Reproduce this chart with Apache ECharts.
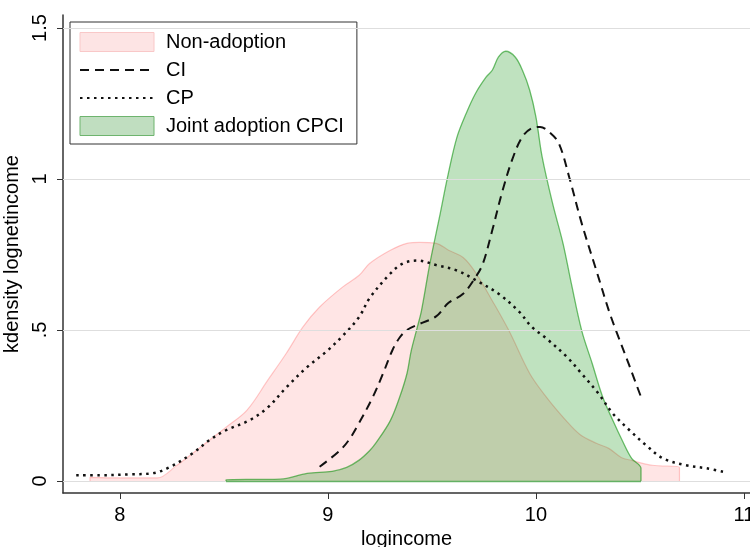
<!DOCTYPE html>
<html lang="en">
<head>
    <meta charset="UTF-8">
    <title>kdensity lognetincome</title>
    <script src="https://cdn.jsdelivr.net/npm/echarts@6/dist/echarts.min.js"></script>
    <style>
        html, body { margin: 0; padding: 0; background: #fff; }
    </style>
</head>
<body>

<div id="chart_wrap" style="width: 750px; height: 547px;"></div>

<script>
    // values: [logincome, density]
    var nonAdoption = [
        [7.856, 0], [7.856, 0.012], [8.00, 0.010], [8.18, 0.010], [8.27, 0.050], [8.35, 0.092],
        [8.43, 0.135], [8.51, 0.178], [8.61, 0.234], [8.71, 0.333], [8.80, 0.423],
        [8.88, 0.510], [8.96, 0.576], [9.07, 0.642], [9.15, 0.681], [9.20, 0.720],
        [9.30, 0.764], [9.38, 0.787], [9.44, 0.790], [9.52, 0.787], [9.58, 0.764],
        [9.65, 0.740], [9.71, 0.690], [9.79, 0.597], [9.87, 0.498], [9.97, 0.356],
        [10.05, 0.278], [10.145, 0.200], [10.21, 0.155], [10.29, 0.125], [10.35, 0.108],
        [10.41, 0.078], [10.46, 0.068], [10.56, 0.052], [10.69, 0.045], [10.69, 0]
    ];
    var ci = [
        [8.96, 0.047], [9.056, 0.100], [9.10, 0.135], [9.14, 0.180], [9.215, 0.277],
        [9.265, 0.356], [9.31, 0.433], [9.345, 0.475], [9.38, 0.500], [9.44, 0.520],
        [9.52, 0.545], [9.58, 0.590], [9.65, 0.620], [9.71, 0.675], [9.745, 0.720],
        [9.79, 0.830], [9.84, 0.963], [9.89, 1.072], [9.935, 1.140], [9.98, 1.168],
        [10.02, 1.172], [10.065, 1.155], [10.11, 1.118], [10.16, 1.006], [10.22, 0.853],
        [10.29, 0.698], [10.35, 0.565], [10.385, 0.498], [10.45, 0.380], [10.512, 0.265]
    ];
    var cp = [
        [7.79, 0.019], [7.90, 0.019], [8.05, 0.022], [8.16, 0.026], [8.24, 0.046],
        [8.35, 0.092], [8.43, 0.135], [8.51, 0.168], [8.62, 0.200], [8.71, 0.243],
        [8.80, 0.310], [8.90, 0.377], [8.99, 0.427], [9.07, 0.480], [9.15, 0.543],
        [9.20, 0.605], [9.30, 0.687], [9.36, 0.720], [9.43, 0.730], [9.52, 0.715],
        [9.62, 0.697], [9.71, 0.665], [9.82, 0.620], [9.92, 0.560], [9.98, 0.510],
        [10.05, 0.472], [10.15, 0.410], [10.22, 0.355], [10.30, 0.290], [10.37, 0.223],
        [10.45, 0.168], [10.53, 0.118], [10.61, 0.075], [10.72, 0.052], [10.82, 0.042],
        [10.91, 0.029]
    ];
    var jointAdoption = [
        [8.51, 0], [8.51, 0.004], [8.77, 0.006], [8.90, 0.025], [9.02, 0.032], [9.09, 0.045],
        [9.15, 0.069], [9.20, 0.100], [9.23, 0.125], [9.30, 0.200], [9.345, 0.278],
        [9.38, 0.356], [9.40, 0.430], [9.43, 0.510], [9.45, 0.565], [9.49, 0.720],
        [9.54, 0.886], [9.575, 1.006], [9.62, 1.138], [9.665, 1.218], [9.71, 1.284],
        [9.76, 1.337], [9.79, 1.360], [9.82, 1.404], [9.855, 1.423], [9.90, 1.404],
        [9.935, 1.360], [9.97, 1.294], [10.00, 1.205], [10.03, 1.072], [10.08, 0.919],
        [10.13, 0.787], [10.17, 0.654], [10.22, 0.498], [10.27, 0.390], [10.32, 0.280],
        [10.37, 0.200], [10.415, 0.134], [10.46, 0.075], [10.505, 0.042], [10.505, 0]
    ];

    var seriesNames = ['Non-adoption', 'CI', 'CP', 'Joint adoption CPCI'];
    var xTicks = [8, 9, 10, 11];
    var yTicks = [0, 0.5, 1, 1.5];
    var yTickLabels = ['0', '.5', '1', '1.5'];

    var chart = echarts.init(document.getElementById('chart_wrap'));

    var font = 'Liberation Sans, Arial, sans-serif';

    var option = {
        animation: false,
        backgroundColor: '#fff',
        textStyle: { fontFamily: font, color: '#000' },
        grid: { left: 63, right: 0, top: 15, bottom: 54, outerBoundsMode: 'none', containLabel: false },
        legend: {
            orient: 'vertical',
            left: 70,
            top: 22,
            padding: [10, 13, 8, 9],
            itemWidth: 74,
            itemHeight: 19,
            itemGap: 8,
            backgroundColor: '#fff',
            borderColor: '#333',
            borderWidth: 1,
            textStyle: { fontSize: 20, color: '#000', fontFamily: font, padding: [0, 0, 0, 7] },
            data: [
                { name: seriesNames[0], icon: 'rect',
                  itemStyle: { color: 'rgb(253,228,228)', borderColor: 'rgb(249,200,200)', borderWidth: 1 } },
                { name: seriesNames[1], itemStyle: { opacity: 0 } },
                { name: seriesNames[2], itemStyle: { opacity: 0 } },
                { name: seriesNames[3], icon: 'rect',
                  itemStyle: { color: 'rgb(192,222,192)', borderColor: 'rgb(110,180,110)', borderWidth: 1 } }
            ]
        },
        xAxis: {
            type: 'value',
            min: 7.7264,
            max: 11.029,
            name: 'logincome',
            nameLocation: 'middle',
            nameGap: 32,
            nameTextStyle: { fontSize: 20, color: '#000' },
            axisLine: { show: true, onZero: false, lineStyle: { color: '#333', width: 1.5 } },
            axisTick: { show: true, length: 6, customValues: xTicks, lineStyle: { color: '#333' } },
            axisLabel: { customValues: xTicks, fontSize: 20, color: '#000', margin: 12, hideOverlap: false },
            splitLine: { show: false }
        },
        yAxis: {
            type: 'value',
            min: -0.0398,
            max: 1.543,
            name: 'kdensity lognetincome',
            nameLocation: 'middle',
            nameGap: 40,
            nameTextStyle: { fontSize: 20, color: '#000' },
            axisLine: { show: true, onZero: false, lineStyle: { color: '#333', width: 1.5 } },
            axisTick: { show: true, length: 6, customValues: yTicks, lineStyle: { color: '#333' } },
            axisLabel: {
                customValues: yTicks,
                rotate: 90,
                fontSize: 20,
                color: '#000',
                margin: 13,
                formatter: function (v) {
                    var idx = yTicks.indexOf(v);
                    return idx >= 0 ? yTickLabels[idx] : '';
                }
            },
            splitLine: { show: false }
        },
        series: [
            {
                // grid lines at the labelled y ticks
                name: 'grid',
                type: 'line',
                data: [],
                z: 0,
                silent: true,
                markLine: {
                    silent: true,
                    symbol: 'none',
                    label: { show: false },
                    lineStyle: { color: '#dedede', width: 1.2, type: 'solid' },
                    data: yTicks.map(function (v) { return { yAxis: v }; })
                }
            },
            {
                name: seriesNames[0],
                type: 'line',
                data: nonAdoption,
                showSymbol: false,
                symbol: 'none',
                smooth: 0.35,
                z: 2,
                lineStyle: { color: 'rgba(255,0,0,0.2)', width: 1.2 },
                itemStyle: { color: 'rgba(255,0,0,0.2)' },
                areaStyle: { color: 'rgba(255,0,0,0.1)', opacity: 1 }
            },
            {
                name: seriesNames[3],
                type: 'line',
                data: jointAdoption,
                showSymbol: false,
                symbol: 'none',
                smooth: 0.35,
                z: 3,
                lineStyle: { color: 'rgba(0,140,0,0.55)', width: 1.3 },
                itemStyle: { color: 'rgba(0,140,0,0.55)' },
                areaStyle: { color: 'rgba(0,140,0,0.25)', opacity: 1 },
                markLine: {
                    silent: true,
                    symbol: 'none',
                    label: { show: false },
                    lineStyle: { color: 'rgba(0,140,0,0.55)', width: 1.3, type: 'solid' },
                    data: [[
                        { coord: jointAdoption[0] },
                        { coord: jointAdoption[jointAdoption.length - 1] }
                    ]]
                }
            },
            {
                name: seriesNames[1],
                type: 'line',
                data: ci,
                showSymbol: false,
                symbol: 'none',
                smooth: 0.35,
                z: 4,
                itemStyle: { color: '#111' },
                lineStyle: { color: '#111', width: 2, type: [9, 6] }
            },
            {
                name: seriesNames[2],
                type: 'line',
                data: cp,
                showSymbol: false,
                symbol: 'none',
                smooth: 0.35,
                z: 4,
                itemStyle: { color: '#111' },
                lineStyle: { color: '#111', width: 2.5, type: [2.5, 4.5] }
            }
        ]
    };

    chart.setOption(option);
</script>
</body>
</html>
